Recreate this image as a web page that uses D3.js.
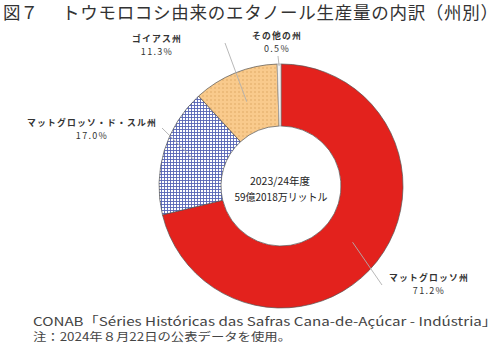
<!DOCTYPE html>
<html><head><meta charset="utf-8">
<script src="https://cdn.jsdelivr.net/npm/d3@7"></script>
<style>
html,body{margin:0;padding:0;background:#fff;}
svg{display:block;}
text{font-family:"Noto Sans CJK JP","Noto Sans",sans-serif;}
</style></head>
<body>
<svg id="chart" width="500" height="349"></svg>
<script>
// ---- data ----
const categories = ["マットグロッソ州", "マットグロッソ・ド・スル州", "ゴイアス州", "その他の州"];
const shares = [71.2, 17.0, 11.3, 0.5];
const shareLabels = ["71.2%", "17.0%", "11.3%", "0.5%"];
const centerLines = ["2023/24年度", "59億2018万リットル"];
const titleNum = "図７";
const titleText = "トウモロコシ由来のエタノール生産量の内訳（州別）";
const sourceLines = ["CONAB「Séries Históricas das Safras Cana-de-Açúcar - Indústria」", "注：2024年８月22日の公表データを使用。"];

// ---- layout ----
const W = 500, H = 349;
const cx = 281, cy = 186, rOuter = 122, rInner = 60;
const fills = ["#e3221d", "url(#gridBlue)", "url(#dotsOrange)", "#f2f2f2"];
// label anchor (leader line end) and label text center per slice
const labelLayout = [
  {lx: 382, ly: 285, tx: 429, ty: 281, startR: 91},
  {lx: 162, ly: 128, tx: 92, ty: 126, startR: 91},
  {lx: 225, ly: 43, tx: 157, ty: 42, startR: 91},
  {lx: 278, ly: 56, tx: 277, ty: 39, startR: 120}
];

const svg = d3.select("#chart");
svg.append("rect").attr("width", W).attr("height", H).attr("fill", "#fff");

const defs = svg.append("defs");
const pg = defs.append("pattern").attr("id", "gridBlue").attr("patternUnits", "userSpaceOnUse")
  .attr("width", 3).attr("height", 3);
pg.append("rect").attr("width", 3).attr("height", 3).attr("fill", "#ffffff");
pg.append("path").attr("d", "M0,0.5H3M0.5,0V3").attr("stroke", "#5664b6").attr("stroke-width", 0.9);

const po = defs.append("pattern").attr("id", "dotsOrange").attr("patternUnits", "userSpaceOnUse")
  .attr("width", 4).attr("height", 4);
po.append("rect").attr("width", 4).attr("height", 4).attr("fill", "#f9ca8c");
po.append("rect").attr("x", 1.5).attr("y", 1.5).attr("width", 1).attr("height", 1).attr("fill", "#c98f45");

// title
svg.append("text").attr("x", 3).attr("y", 19).attr("font-size", 17.5).attr("fill", "#333")
  .text(titleNum);
svg.append("text").attr("x", 62).attr("y", 19).attr("font-size", 17.5).attr("fill", "#333")
  .attr("textLength", 436).attr("lengthAdjust", "spacing").text(titleText);

// pie
const pie = d3.pie().sort(null).value(d => d).startAngle(0).endAngle(2 * Math.PI);
const arcs = pie(shares);
const arc = d3.arc().innerRadius(rInner).outerRadius(rOuter);
const g = svg.append("g").attr("transform", `translate(${cx},${cy})`);

g.selectAll("path.slice").data(arcs).join("path")
  .attr("class", "slice")
  .attr("d", arc)
  .attr("fill", (d, i) => fills[i])
  .attr("stroke", (d, i) => i === 3 ? "#999" : "#555")
  .attr("stroke-width", 0.7);

// leader lines
g.selectAll("line.leader").data(arcs).join("line")
  .attr("class", "leader")
  .attr("x1", (d, i) => d3.arc().innerRadius(labelLayout[i].startR).outerRadius(labelLayout[i].startR).centroid(d)[0])
  .attr("y1", (d, i) => d3.arc().innerRadius(labelLayout[i].startR).outerRadius(labelLayout[i].startR).centroid(d)[1])
  .attr("x2", (d, i) => labelLayout[i].lx - cx)
  .attr("y2", (d, i) => labelLayout[i].ly - cy)
  .attr("stroke", "#b0b0b0").attr("stroke-width", 0.9);

// labels
const lab = svg.append("g");
categories.forEach((c, i) => {
  const L = labelLayout[i];
  lab.append("text").attr("x", L.tx).attr("y", L.ty).attr("text-anchor", "middle")
    .attr("font-size", 8.8).attr("font-weight", 700).attr("letter-spacing", 1.2).attr("fill", "#333")
    .text(c);
  lab.append("text").attr("x", L.tx).attr("y", L.ty + 13).attr("text-anchor", "middle")
    .attr("font-size", 9).attr("letter-spacing", 1.3).attr("fill", "#333")
    .attr("font-family", "'DejaVu Sans Mono', monospace")
    .text(shareLabels[i]);
});

// center text
svg.append("text").attr("x", cx - 1).attr("y", 185).attr("text-anchor", "middle")
  .attr("font-size", 10.5).attr("fill", "#222").text(centerLines[0]);
svg.append("text").attr("x", cx).attr("y", 200.5).attr("text-anchor", "middle")
  .attr("font-size", 10.5).attr("fill", "#222")
  .attr("textLength", 93).attr("lengthAdjust", "spacingAndGlyphs").text(centerLines[1]);

// source
svg.append("text").attr("x", 33).attr("y", 326).attr("font-size", 12).attr("fill", "#444")
  .attr("font-family", "'Liberation Sans', Arial, sans-serif")
  .attr("textLength", 464).attr("lengthAdjust", "spacingAndGlyphs").text(sourceLines[0]);
svg.append("text").attr("x", 33).attr("y", 341).attr("font-size", 11.5).attr("fill", "#444")
  .attr("textLength", 258).attr("lengthAdjust", "spacingAndGlyphs").text(sourceLines[1]);
</script>
</body></html>
